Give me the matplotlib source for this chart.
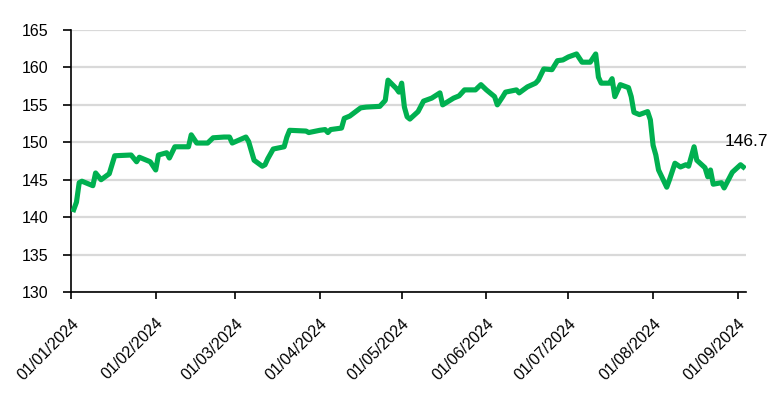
import matplotlib
matplotlib.use("Agg")
import matplotlib.pyplot as plt
import matplotlib.dates as mdates
import pandas as pd

# values
dates = ["2024-01-02", "2024-01-03", "2024-01-04", "2024-01-05", "2024-01-09", "2024-01-10",
         "2024-01-12", "2024-01-15", "2024-01-17", "2024-01-23", "2024-01-25", "2024-01-26",
         "2024-01-30", "2024-02-01", "2024-02-02", "2024-02-05", "2024-02-06", "2024-02-08",
         "2024-02-13", "2024-02-14", "2024-02-16", "2024-02-20", "2024-02-22", "2024-02-26",
         "2024-02-28", "2024-02-29", "2024-03-05", "2024-03-06", "2024-03-08", "2024-03-11",
         "2024-03-12", "2024-03-13", "2024-03-15", "2024-03-19", "2024-03-20", "2024-03-21",
         "2024-03-27", "2024-03-28", "2024-04-01", "2024-04-03", "2024-04-04", "2024-04-05",
         "2024-04-09", "2024-04-10", "2024-04-12", "2024-04-16", "2024-04-18", "2024-04-23",
         "2024-04-25", "2024-04-26", "2024-04-29", "2024-04-30", "2024-05-01", "2024-05-02",
         "2024-05-03", "2024-05-04", "2024-05-07", "2024-05-09", "2024-05-12", "2024-05-15",
         "2024-05-16", "2024-05-20", "2024-05-22", "2024-05-24", "2024-05-28", "2024-05-30",
         "2024-06-01", "2024-06-04", "2024-06-05", "2024-06-07", "2024-06-08", "2024-06-12",
         "2024-06-13", "2024-06-16", "2024-06-19", "2024-06-20", "2024-06-22", "2024-06-25",
         "2024-06-27", "2024-06-29", "2024-07-01", "2024-07-04", "2024-07-06", "2024-07-09",
         "2024-07-11", "2024-07-12", "2024-07-13", "2024-07-16", "2024-07-17", "2024-07-18",
         "2024-07-20", "2024-07-23", "2024-07-24", "2024-07-25", "2024-07-27", "2024-07-30",
         "2024-07-31", "2024-08-01", "2024-08-02", "2024-08-03", "2024-08-06", "2024-08-07",
         "2024-08-09", "2024-08-11", "2024-08-13", "2024-08-14", "2024-08-16", "2024-08-17",
         "2024-08-20", "2024-08-21", "2024-08-22", "2024-08-23", "2024-08-26", "2024-08-27",
         "2024-08-30", "2024-09-02", "2024-09-03"]
values = [141.0, 142.0, 144.6, 144.8, 144.2, 145.9,
          145.0, 145.8, 148.2, 148.3, 147.4, 148.0,
          147.4, 146.3, 148.3, 148.6, 147.9, 149.4,
          149.4, 151.0, 149.9, 149.9, 150.6, 150.7,
          150.7, 149.9, 150.7, 150.1, 147.6, 146.8,
          147.0, 147.8, 149.1, 149.4, 150.7, 151.6,
          151.5, 151.3, 151.6, 151.7, 151.3, 151.7,
          151.9, 153.2, 153.5, 154.6, 154.7, 154.8,
          155.6, 158.3, 157.2, 156.7, 157.9, 154.7,
          153.4, 153.1, 154.1, 155.5, 155.9, 156.6,
          155.0, 155.9, 156.2, 157.0, 157.0, 157.7,
          157.0, 156.1, 155.0, 156.1, 156.7, 157.0,
          156.6, 157.4, 157.9, 158.3, 159.8, 159.7,
          160.9, 161.0, 161.4, 161.8, 160.7, 160.7,
          161.8, 158.7, 157.9, 157.9, 158.5, 156.1,
          157.7, 157.3, 156.1, 154.0, 153.7, 154.1,
          153.0, 149.6, 148.3, 146.3, 144.0, 145.0,
          147.2, 146.7, 147.0, 146.8, 149.4, 147.6,
          146.6, 145.4, 146.3, 144.4, 144.6, 143.9,
          146.0, 147.0, 146.7]
last_label = "146.7"

x = pd.to_datetime(dates)

plt.rcParams['font.family'] = ['Liberation Sans', 'DejaVu Sans']

fig = plt.figure(figsize=(7.82, 3.96), dpi=100)
ax = fig.add_axes([71 / 782, 1 - 292 / 396, (746 - 71) / 782, (292 - 30) / 396])

ax.plot(x, values, color="#00B050", linewidth=3.7, solid_joinstyle="round", zorder=3)
ax.annotate(last_label, (x[-1], values[-1]), xytext=(2, 18), textcoords="offset points",
            ha="center", va="center", fontsize=12.5, annotation_clip=False)

ax.set_ylim(130, 165)
ax.set_yticks(range(130, 166, 5))
ax.set_xlim(pd.Timestamp("2024-01-01"), pd.Timestamp("2024-09-04"))
ax.xaxis.set_major_locator(mdates.MonthLocator())
ax.xaxis.set_major_formatter(mdates.DateFormatter("%d/%m/%Y"))

ax.grid(axis="y", color="#D9D9D9", linewidth=1.6, zorder=0)
ax.set_axisbelow(True)
for s in ["top", "right"]:
    ax.spines[s].set_visible(False)
for s in ["left", "bottom"]:
    ax.spines[s].set_linewidth(1.2)

ax.tick_params(axis="y", length=6, width=1.2, labelsize=11.5, pad=10)
ax.tick_params(axis="x", length=5, width=1.2, labelsize=11.5, pad=12)
for lbl in ax.get_xticklabels():
    lbl.set_rotation(45)
    lbl.set_ha("right")
    lbl.set_va("top")
    lbl.set_rotation_mode("anchor")

fig.savefig("out.png", dpi=100)
